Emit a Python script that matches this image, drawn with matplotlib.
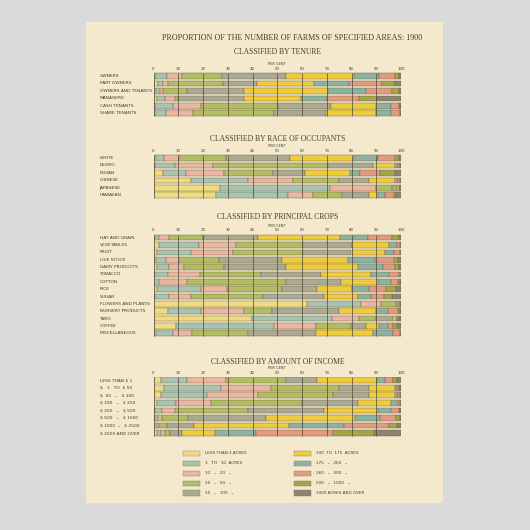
import matplotlib
matplotlib.use('Agg')
import matplotlib.pyplot as plt
import matplotlib.patches as patches
import matplotlib.transforms as mtransforms
import numpy as np

# size classes (legend)
classes = ['LESS THAN 3 ACRES', '3   TO   10  ACRES', '10   „   20   „', '20   „   50   „',
           '50   „   100   „', '100  TO  175  ACRES', '175   „   260   „', '260   „   500   „',
           '500   „   1000   „', '1000 ACRES AND OVER']
colors = ['#f0dc80', '#a8c4b0', '#eab6a0', '#b2bc62', '#aca992',
          '#efcc3c', '#8db2a0', '#e39a7e', '#a2a646', '#8a856e']

# percent of farms in each size class
tenure_labels = ['OWNERS', 'PART OWNERS', 'OWNERS AND TENANTS', 'MANAGERS', 'CASH TENANTS', 'SHARE TENANTS']
tenure = [
    [1, 4.5, 6, 16, 26, 27.5, 10, 6.5, 1.5, 1],
    [2, 2, 2, 22, 14, 23, 14, 13.5, 5, 2.5],
    [1, 1.5, 1.5, 9.5, 23, 34, 15.5, 10.5, 2.5, 1],
    [1.5, 3, 4, 1.5, 26.5, 23, 10.5, 13, 7.5, 9.5],
    [0.7, 7, 11.5, 31, 21.5, 18.2, 6, 3.2, 0.5, 0.4],
    [0.5, 4.5, 11, 32.5, 21, 20.5, 6, 3.5, 0.3, 0.2],
]

race_labels = ['WHITE', 'NEGRO', 'INDIAN', 'CHINESE', 'JAPANESE', 'HAWAIIAN']
race = [
    [1, 3.3, 6.1, 19, 25.8, 25.7, 9.9, 6.8, 1.6, 0.8],
    [0.7, 8, 15.3, 46.7, 17.9, 9, 1, 0.8, 0.3, 0.3],
    [3.7, 9.3, 15.5, 19.9, 12.8, 18.3, 4.1, 8.1, 5.9, 2.4],
    [15.2, 23, 18.3, 18.5, 12, 10.7, 1, 0.8, 0.3, 0.2],
    [26.7, 44.7, 18.3, 6.5, 2.3, 0.8, 0.3, 0.2, 0.1, 0.1],
    [25.3, 29.2, 10.1, 11.5, 10.8, 4, 2.5, 3.7, 0.7, 2.2],
]

crop_labels = ['HAY AND GRAIN', 'VEGETABLES', 'FRUIT', 'LIVE STOCK', 'DAIRY PRODUCTS', 'TOBACCO',
               'COTTON', 'RICE', 'SUGAR', 'FLOWERS AND PLANTS', 'NURSERY PRODUCTS', 'TARO',
               'COFFEE', 'MISCELLANEOUS']
crops = [
    [0.5, 1.8, 4.1, 13.5, 22.4, 33.2, 11.1, 9.9, 2.7, 0.8],
    [2.3, 16.2, 14.9, 27.1, 19.9, 14.7, 3.4, 1.0, 0.3, 0.2],
    [1.6, 13.6, 16.9, 28.4, 19.5, 13.5, 3.5, 2.5, 0.3, 0.2],
    [1, 4, 5.4, 15.9, 25.7, 26.7, 10.6, 7.8, 1.8, 1.1],
    [1.6, 4.8, 5.9, 16.2, 24.9, 29.1, 10.1, 4.8, 1.6, 1],
    [0.5, 5.2, 12.9, 25, 24, 20.2, 7.3, 4.2, 0.5, 0.2],
    [0.3, 2, 11.2, 40, 22.2, 15.2, 5, 2.8, 0.8, 0.5],
    [1.6, 17.6, 10.6, 22, 14.2, 14.3, 6.6, 6.9, 4, 2.2],
    [0.5, 5.9, 8.8, 29.1, 24.5, 13.7, 5.4, 5.4, 3.2, 3.5],
    [62, 22, 7.8, 6.2, 1.2, 0.4, 0.2, 0.1, 0.05, 0.05],
    [5.7, 13.5, 17.4, 11.4, 27, 15, 4.6, 4, 0.8, 0.6],
    [39.6, 32.4, 11, 7, 6.6, 1.3, 0.8, 0.6, 0.4, 0.3],
    [9.1, 39.5, 17, 14.2, 6, 5.2, 3.6, 2.2, 1.6, 1.6],
    [1, 7, 7.5, 22.5, 27.6, 23, 8, 2.8, 0.4, 0.2],
]

income_labels = ['LESS THAN \\$ 1', '\\$   1   TO  \\$ 50', '\\$  50   „   \\$ 100', '\\$ 100   „   \\$ 250',
                 '\\$ 250   „   \\$ 500', '\\$ 500   „   \\$ 1000', '\\$ 1000  „   \\$ 2500', '\\$ 2500 AND OVER']
income = [
    [3.2, 10.3, 15.9, 24.3, 12.3, 24.3, 3.2, 3.1, 1.9, 1.5],
    [4.3, 23, 20.1, 27.6, 12.2, 10.2, 1, 0.8, 0.4, 0.4],
    [3.2, 18.5, 20.6, 30.1, 14.8, 10.2, 1.4, 0.8, 0.2, 0.2],
    [1.5, 7.6, 14.2, 36.9, 22.3, 13.5, 2.6, 1, 0.2, 0.2],
    [0.8, 2.8, 5.2, 29.2, 31, 21.6, 5.5, 3.2, 0.4, 0.3],
    [0.5, 1.5, 1.5, 10.5, 31.5, 36, 10, 6.4, 1.5, 0.6],
    [0.3, 1, 1, 3, 11, 38.4, 22.3, 18, 3.5, 1.5],
    [1.5, 1.5, 1.5, 2, 5, 13.5, 16.5, 31, 16.5, 11],
]

W = 530.0
ink = '#453d31'
serif = ['Liberation Serif', 'DejaVu Serif']


def fx(x):
    return x / W


def fy(y):
    return 1 - y / W


fig = plt.figure(figsize=(5.3, 5.3), dpi=100)
fig.patch.set_facecolor('#dadada')
fig.patches.append(patches.Rectangle((fx(86), fy(503)), (443 - 86) / W, (503 - 22) / W,
                                     transform=fig.transFigure, facecolor='#f4e9cd',
                                     edgecolor='none', zorder=-5))

fig.text(fx(292), fy(38), 'PROPORTION OF THE NUMBER OF FARMS OF SPECIFIED AREAS: 1900',
         ha='center', va='center', family=serif, fontsize=5.9, color=ink)


def section(title, labels, data, first_row, step, title_y):
    n = len(labels)
    top = first_row - step / 2
    bottom = top + n * step
    ax = fig.add_axes([fx(153.5), fy(bottom), (401 - 153.5) / W, (bottom - top) / W])
    ax.set_facecolor('none')
    ax.set_zorder(1)
    arr = np.array(data, dtype=float)
    rows = np.arange(n)
    left = np.zeros(n)
    for k in range(arr.shape[1]):
        ax.barh(rows, arr[:, k], left=left, height=0.76, color=colors[k],
                edgecolor='#6a604c', linewidth=0.3, zorder=2)
        left += arr[:, k]
    ax.vlines(np.arange(0, 101, 10), -0.4, n - 0.6, color='#4f4738', linewidth=0.5, zorder=3)
    ax.set_xlim(0, 100)
    ax.set_ylim(n - 0.5, -0.5)
    for s in ax.spines.values():
        s.set_visible(False)
    ax.xaxis.set_ticks_position('top')
    ax.set_xticks(np.arange(0, 101, 10))
    ax.tick_params(axis='x', length=0, pad=1.2, labelsize=2.8, labelcolor=ink)
    ax.set_yticks([])
    trans = mtransforms.blended_transform_factory(fig.transFigure, ax.transData)
    for i, lab in enumerate(labels):
        ax.text(fx(99.5), i, lab, transform=trans, ha='left', va='center',
                fontsize=3.2, color=ink, clip_on=False)
    fig.text(fx(278), fy(title_y), title, ha='center', va='center', family=serif,
             fontsize=5.5, color=ink)
    fig.text(fx(277), fy(first_row - 12), 'PER CENT', ha='center', va='center',
             fontsize=2.6, color=ink)


section('CLASSIFIED BY TENURE', tenure_labels, tenure, 76, 7.45, 52)
section('CLASSIFIED BY RACE OF OCCUPANTS', race_labels, race, 158, 7.46, 139)
section('CLASSIFIED BY PRINCIPAL CROPS', crop_labels, crops, 237.7, 7.35, 217)
section('CLASSIFIED BY AMOUNT OF INCOME', income_labels, income, 380.3, 7.53, 361.7)

# legend
leg_rows = [453.3, 463.5, 473.3, 483.3, 493]
for k, lab in enumerate(classes):
    col, r = divmod(k, 5)
    x0 = 183 if col == 0 else 294
    y = leg_rows[r]
    fig.patches.append(patches.Rectangle((fx(x0), fy(y + 2.8)), 17 / W, 5.6 / W,
                                         transform=fig.transFigure, facecolor=colors[k],
                                         edgecolor='#8a7f68', linewidth=0.3, zorder=2))
    fig.text(fx(x0 + 22), fy(y), lab, ha='left', va='center', fontsize=3.0, color=ink)

fig.savefig('out.png', dpi=100, facecolor=fig.get_facecolor())
